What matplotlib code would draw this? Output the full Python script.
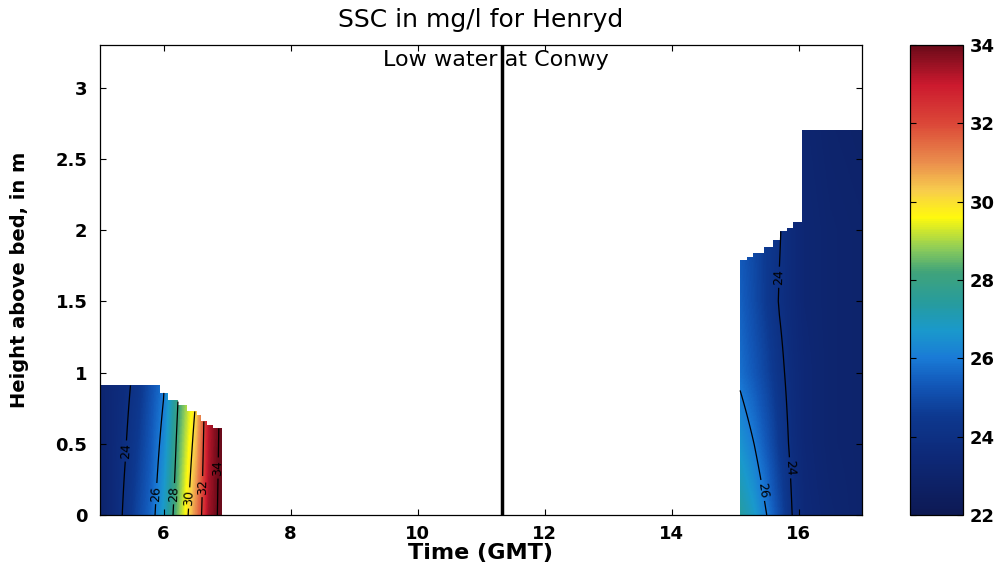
import numpy as np
import matplotlib
matplotlib.use("Agg")
import matplotlib.pyplot as plt
from matplotlib.colors import LinearSegmentedColormap

# ---- Morning block (ebb, before low water) ----
left_time = [5.0, 5.2, 5.4, 5.6, 5.8, 6.0, 6.1, 6.2, 6.3, 6.4, 6.5, 6.6, 6.7, 6.8, 6.92]
left_height = [0.0, 0.91]
left_ssc_bed = [23.0, 23.55, 24.15, 24.9, 25.6, 26.8, 27.6, 28.4, 29.25, 30.1, 31.05, 32.0, 33.4, 33.8, 34.3]
left_ssc_top = [23.2, 23.5, 23.8, 24.3, 25.1, 25.9, 26.75, 27.7, 28.45, 29.1, 29.8, 31.2, 32.9, 33.6, 34.2]
left_profile_start = [5.0, 5.94, 6.07, 6.23, 6.37, 6.53, 6.6, 6.68, 6.78]
left_profile_top = [0.91, 0.86, 0.81, 0.77, 0.73, 0.70, 0.66, 0.63, 0.61]
left_end = 6.92

# ---- Afternoon block (flood) ----
right_time = [15.08, 15.3, 15.5, 15.7, 15.9, 16.1, 16.5, 17.0]
right_height = [0.0, 0.5, 1.0, 1.5, 2.0, 2.7]
right_ssc_h00 = [27.4, 26.8, 26.0, 25.0, 24.0, 23.5, 23.2, 23.0]
right_ssc_h05 = [26.6, 26.0, 25.3, 24.5, 23.8, 23.4, 23.1, 23.0]
right_ssc_h10 = [25.8, 25.3, 24.8, 24.2, 23.7, 23.4, 23.1, 23.0]
right_ssc_h15 = [25.5, 25.0, 24.5, 23.95, 23.6, 23.3, 23.1, 23.0]
right_ssc_h20 = [25.3, 24.9, 24.5, 24.05, 23.6, 23.3, 23.1, 23.0]
right_ssc_h27 = [25.0, 24.7, 24.3, 23.9, 23.5, 23.2, 23.0, 22.9]
right_profile_start = [15.08, 15.19, 15.29, 15.45, 15.6, 15.71, 15.81, 15.92, 16.05]
right_profile_top = [1.79, 1.81, 1.84, 1.88, 1.93, 2.0, 2.02, 2.06, 2.70]
right_end = 17.0

low_water_time = 11.33
contour_levels = [24, 26, 28, 30, 32, 34]
cbar_ticks = [22, 24, 26, 28, 30, 32, 34]
x_ticks = [6, 8, 10, 12, 14, 16]
y_ticks = [0, 0.5, 1, 1.5, 2, 2.5, 3]
y_tick_labels = ["0", "0.5", "1", "1.5", "2", "2.5", "3"]

# Printed jet-like palette
cmap_nodes = [
    (22.0, (0.05, 0.10, 0.33)),
    (23.5, (0.05, 0.16, 0.47)),
    (24.5, (0.05, 0.22, 0.56)),
    (25.3, (0.07, 0.34, 0.72)),
    (26.0, (0.10, 0.48, 0.84)),
    (26.7, (0.10, 0.60, 0.80)),
    (27.4, (0.15, 0.61, 0.62)),
    (28.2, (0.25, 0.64, 0.48)),
    (28.8, (0.55, 0.80, 0.35)),
    (29.6, (1.00, 0.98, 0.05)),
    (30.3, (0.97, 0.80, 0.30)),
    (31.0, (0.92, 0.56, 0.30)),
    (32.0, (0.86, 0.28, 0.22)),
    (33.0, (0.80, 0.10, 0.18)),
    (34.0, (0.42, 0.04, 0.10)),
]
vmin, vmax = 22, 34
cmap = LinearSegmentedColormap.from_list(
    "ssc", [((v - vmin) / (vmax - vmin), c) for v, c in cmap_nodes], N=256)


def block_field(times, heights, rows, starts, tops, end):
    t = np.linspace(starts[0], end, 320)
    h = np.linspace(0, max(tops), 260)
    rows_t = np.array([np.interp(t, times, r) for r in rows])
    field = np.array([np.interp(h, heights, rows_t[:, j]) for j in range(len(t))]).T
    idx = np.searchsorted(starts, t, side="right") - 1
    col_top = np.asarray(tops)[idx]
    mask = h[:, None] > col_top[None, :]
    return t, h, np.ma.masked_array(field, mask)


plt.rcParams["font.family"] = ["DejaVu Sans"]

fig = plt.figure(figsize=(9.98, 5.70), dpi=100)
ax = fig.add_axes([100 / 998, 1 - 515 / 570, 762 / 998, 470 / 570])

tl, hl, fl = block_field(left_time, left_height, [left_ssc_bed, left_ssc_top],
                         left_profile_start, left_profile_top, left_end)
tr, hr, fr = block_field(right_time, right_height,
                         [right_ssc_h00, right_ssc_h05, right_ssc_h10,
                          right_ssc_h15, right_ssc_h20, right_ssc_h27],
                         right_profile_start, right_profile_top, right_end)

mesh = ax.pcolormesh(tl, hl, fl, cmap=cmap, vmin=vmin, vmax=vmax, shading="nearest")
ax.pcolormesh(tr, hr, fr, cmap=cmap, vmin=vmin, vmax=vmax, shading="nearest")

csl = ax.contour(tl, hl, fl, levels=contour_levels, colors="k", linewidths=0.9)
csr = ax.contour(tr, hr, fr, levels=contour_levels, colors="k", linewidths=0.9)
ax.clabel(csl, fmt="%d", fontsize=9, inline=True,
          manual=[(5.36, 0.45), (5.91, 0.15), (6.13, 0.15), (6.37, 0.12),
                  (6.55, 0.2), (6.85, 0.33)])
ax.clabel(csr, fmt="%d", fontsize=9, inline=True,
          manual=[(15.63, 1.67), (15.81, 0.33), (15.39, 0.17)])

ax.axvline(low_water_time, color="k", lw=2.5)
ax.text(11.24, 3.15, "Low water at Conwy", ha="center", va="baseline", fontsize=16)

ax.set_xlim(5, 17)
ax.set_ylim(0, 3.3)
ax.set_xticks(x_ticks)
ax.set_yticks(y_ticks)
ax.set_yticklabels(y_tick_labels)
ax.tick_params(direction="in", top=True, right=True, length=4, width=0.8,
               labelsize=13)
ax.tick_params(axis="x", pad=7)
ax.tick_params(axis="y", pad=9)
for lab in ax.get_xticklabels() + ax.get_yticklabels():
    lab.set_fontweight("bold")
for sp in ax.spines.values():
    sp.set_linewidth(0.9)

ax.set_title("SSC in mg/l for Henryd", fontsize=18, pad=13)
ax.set_xlabel("Time (GMT)", fontsize=16, fontweight="bold", labelpad=0)
ax.set_ylabel("Height above bed, in m", fontsize=14, fontweight="bold", labelpad=19)

cax = fig.add_axes([910 / 998, 1 - 515 / 570, 53 / 998, 470 / 570])
cb = fig.colorbar(mesh, cax=cax, ticks=cbar_ticks)
cb.outline.set_linewidth(0.9)
cax.tick_params(direction="in", left=True, right=True, length=4, width=0.8,
                labelsize=13, pad=5)
for lab in cax.get_yticklabels():
    lab.set_fontweight("bold")

fig.savefig("out.png", dpi=100)
